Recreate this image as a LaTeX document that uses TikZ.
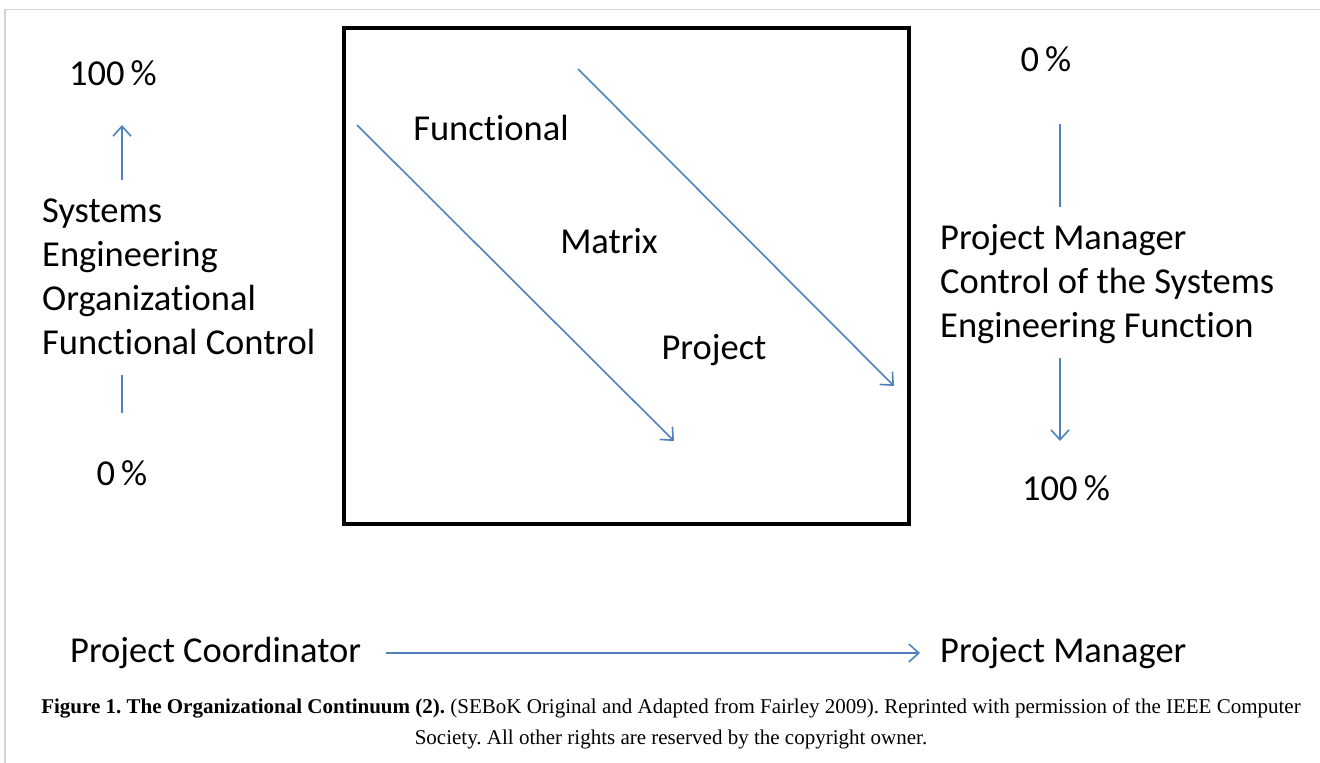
\documentclass[tikz,border=0pt]{standalone}
\usepackage{fontspec}
\setmainfont{Carlito}[Ligatures=NoCommon]
\newfontfamily\capfont{Liberation Serif}
\usetikzlibrary{arrows.meta, positioning}
\definecolor{cBlue}{HTML}{4F81BD}
\definecolor{cFrame}{HTML}{D4D4D4}
\tikzset{
  lbl/.style={inner sep=0pt, font=\fontsize{36.5}{44}\selectfont},
  block/.style={lbl, align=left, anchor=west},
  arrow/.style={-{Straight Barb[length=10pt, width=18pt]}, line width=1.6pt, cBlue},
  stub/.style={line width=1.6pt, cBlue},
  caption/.style={inner sep=0pt, align=center, font=\capfont\frenchspacing\fontsize{21}{31}\selectfont},
}
\begin{document}
\begin{tikzpicture}[x=1pt, y=-1pt]

  % Page area and frame
  \useasboundingbox (0,0) rectangle (1320,763);
  \draw[cFrame, line width=1.2pt] (1320,9.5) -- (5,9.5) -- (5,763);

  % Continuum box
  \draw[line width=4pt] (343.5,27.5) rectangle (909,523.5);

  % Left scale
  \node[lbl] (lTop) at (113,73) {100\,\%};
  \node[block] (lText) at (42,277) {Systems\\Engineering\\Organizational\\Functional Control};
  \node[lbl] (lBot) at (122,473) {0\,\%};
  \coordinate (lUpA) at (122,180);
  \coordinate (lUpB) at (122,125);
  \coordinate (lLoA) at (122,375);
  \coordinate (lLoB) at (122,413);
  \draw[arrow] (lUpA) -- (lUpB);
  \draw[stub] (lLoA) -- (lLoB);

  % Organization types
  \node[lbl] (func) at (491,128) {Functional};
  \node[lbl] (matrix) at (609,241) {Matrix};
  \node[lbl] (proj) at (714,350) {Project};
  \coordinate (dA1) at (357,125);
  \coordinate (dB1) at (674,441);
  \coordinate (dA2) at (578,69);
  \coordinate (dB2) at (894,386);
  \draw[arrow] (dA1) -- (dB1);
  \draw[arrow] (dA2) -- (dB2);

  % Right scale
  \node[lbl] (rTop) at (1046,59) {0\,\%};
  \node[block] (rText) at (940,284) {Project Manager\\Control of the Systems\\Engineering Function};
  \node[lbl] (rBot) at (1066,488) {100\,\%};
  \coordinate (rUpA) at (1060,124);
  \coordinate (rUpB) at (1060,207);
  \coordinate (rLoA) at (1060,358);
  \coordinate (rLoB) at (1060,441);
  \draw[stub] (rUpA) -- (rUpB);
  \draw[arrow] (rLoA) -- (rLoB);

  % Bottom continuum
  \node[lbl, anchor=west] (coord) at (70,653) {Project Coordinator};
  \node[lbl, anchor=west] (mgr) at (940,653) {Project Manager};
  \draw[arrow] ([xshift=25pt]coord.east) -- ([xshift=-20pt]mgr.west);

  % Caption
  \node[caption] (cap) at (671,724) {\textbf{Figure 1. The Organizational Continuum (2).} (SEBoK Original and Adapted from Fairley 2009). Reprinted with permission of the IEEE Computer\\Society. All other rights are reserved by the copyright owner.};

\end{tikzpicture}
\end{document}
